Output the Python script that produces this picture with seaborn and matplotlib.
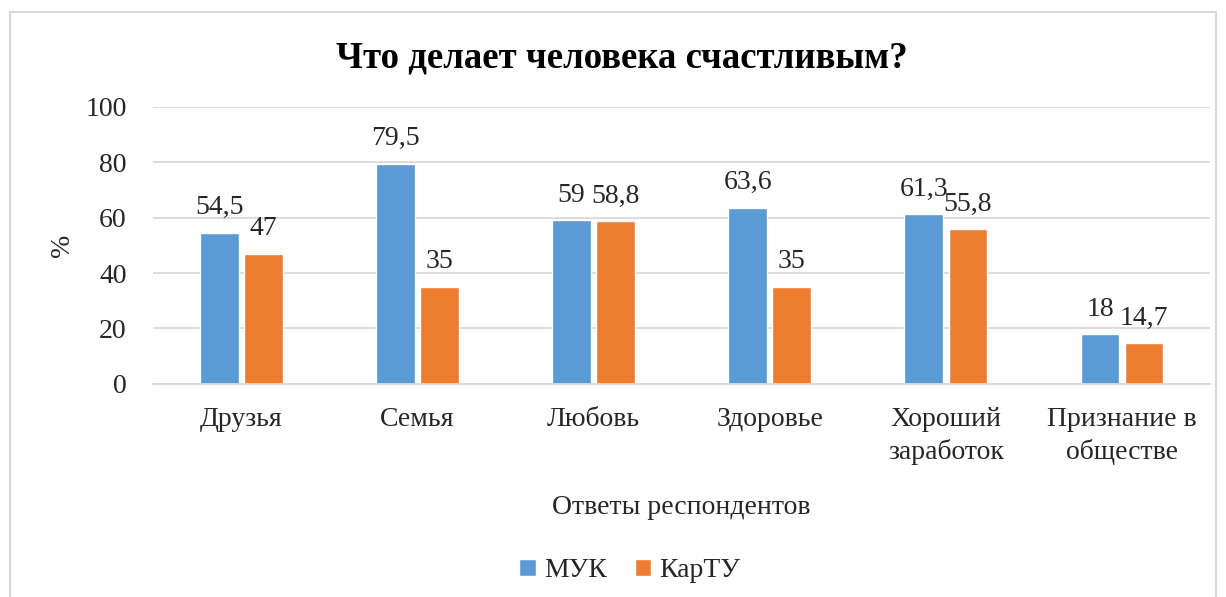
import pandas as pd
import matplotlib.pyplot as plt
import seaborn as sns
from matplotlib.patches import Rectangle

# chart data
categories = ["Друзья", "Семья", "Любовь", "Здоровье", "Хороший\nзаработок", "Признание в\nобществе"]
muk = [54.5, 79.5, 59, 63.6, 61.3, 18]
kartu = [47, 35, 58.8, 35, 55.8, 14.7]
series = ["МУК", "КарТУ"]

df = pd.DataFrame({
    "cat": categories * 2,
    "val": muk + kartu,
    "grp": [series[0]] * len(categories) + [series[1]] * len(categories),
})

sns.set_theme(style="white")
plt.rcParams['font.family'] = ['Liberation Serif', 'DejaVu Serif']

fig = plt.figure(figsize=(12.26, 5.97), dpi=100)
ax = fig.add_axes([0.125, 0.357, 0.862, 0.464])

sns.barplot(data=df, x="cat", y="val", hue="grp", order=categories,
            palette=["#5B9BD5", "#ED7D31"], width=0.5, gap=0.12,
            saturation=1, ax=ax, legend=True)

# data labels
for cont in ax.containers:
    ax.bar_label(cont, labels=[f"{v:g}".replace(".", ",") for v in cont.datavalues],
                 padding=9, fontsize=20, color="#262626")

ax.set_ylim(0, 100)
ax.set_yticks(range(0, 101, 20))
ax.set_xlim(-0.5, 5.5)
ax.yaxis.grid(True, color="#D9D9D9", lw=1.3)
ax.set_axisbelow(True)
for s in ["top", "right", "left"]:
    ax.spines[s].set_visible(False)
ax.spines["bottom"].set_color("#D9D9D9")
ax.spines["bottom"].set_linewidth(1.3)
ax.tick_params(axis="y", labelsize=20, colors="#262626", length=0, pad=19)
ax.tick_params(axis="x", labelsize=20, colors="#262626", length=0, pad=17)
for lbl in ax.get_xticklabels():
    lbl.set_linespacing(1.35)

ax.set_ylabel("%", fontsize=20, color="#262626")
ax.yaxis.set_label_coords(-0.074, 0.5)
ax.set_xlabel("Ответы респондентов", fontsize=20, color="#262626", labelpad=21)
fig.suptitle("Что делает человека счастливым?", fontsize=26.5, fontweight="bold",
             color="#000000", x=0.507, y=0.903, va="center")

ax.legend(loc="upper center", bbox_to_anchor=(0.451, -0.54), ncol=2, frameon=False,
          fontsize=20, handlelength=0.6, handleheight=0.6, handletextpad=0.3,
          columnspacing=1.0)
for t in ax.get_legend().get_texts():
    t.set_color("#262626")

# outer chart border
fig.patches.append(Rectangle((10 / 1226, -0.05), 1206 / 1226, 1 - 12 / 597 + 0.05,
                             transform=fig.transFigure, fill=False,
                             edgecolor="#D9D9D9", lw=1.5))

fig.savefig("out.png", dpi=100)
